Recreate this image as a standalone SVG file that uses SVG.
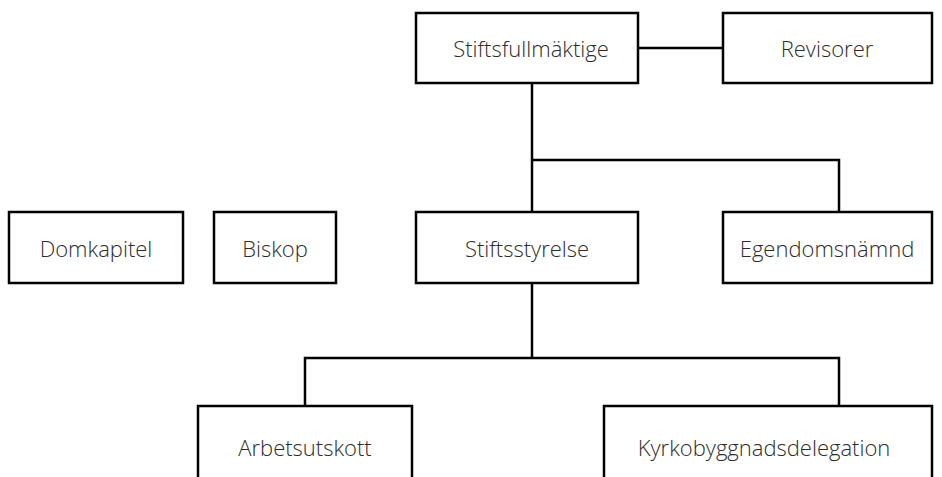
<svg xmlns="http://www.w3.org/2000/svg" width="942" height="477" viewBox="0 0 942 477">
<style>
.box{fill:#fff;stroke:#000;stroke-width:2.5}
.lbl{font-family:"Open Sans","Noto Sans",sans-serif;font-weight:300;font-size:22px;fill:#2b2b2b;text-anchor:middle}
.con{fill:none;stroke:#000;stroke-width:2.5}
</style>
<rect width="942" height="477" fill="#fff"/>
<g id="connectors">
<line class="con" x1="638" y1="48" x2="723" y2="48"/>
<polyline class="con" points="532,83 532,212"/>
<polyline class="con" points="532,160 839,160 839,212"/>
<polyline class="con" points="532,283 532,358"/>
<polyline class="con" points="305,406 305,358 839,358 839,406"/>
</g>
<g id="stiftsfullmaktige"><rect class="box" x="416" y="13" width="222" height="70"/><text class="lbl" x="531" y="57">Stiftsfullmäktige</text></g>
<g id="revisorer"><rect class="box" x="723" y="13" width="209" height="70"/><text class="lbl" x="827" y="57">Revisorer</text></g>
<g id="domkapitel"><rect class="box" x="9" y="212" width="174" height="71"/><text class="lbl" x="96" y="257">Domkapitel</text></g>
<g id="biskop"><rect class="box" x="214" y="212" width="122" height="71"/><text class="lbl" x="275" y="257">Biskop</text></g>
<g id="stiftsstyrelse"><rect class="box" x="416" y="212" width="222" height="71"/><text class="lbl" x="527" y="257">Stiftsstyrelse</text></g>
<g id="egendomsnamnd"><rect class="box" x="723" y="212" width="209" height="71"/><text class="lbl" x="827" y="257">Egendomsnämnd</text></g>
<g id="arbetsutskott"><rect class="box" x="198" y="406" width="214" height="80"/><text class="lbl" x="305" y="456">Arbetsutskott</text></g>
<g id="kyrkobyggnadsdelegation"><rect class="box" x="604" y="406" width="328" height="80"/><text class="lbl" x="764" y="456">Kyrkobyggnadsdelegation</text></g>
</svg>
